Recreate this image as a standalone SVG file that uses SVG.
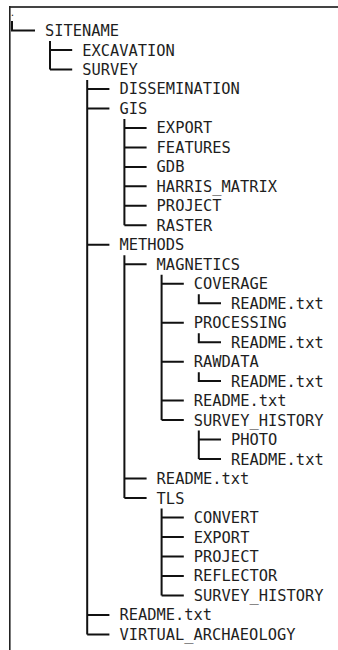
<svg xmlns="http://www.w3.org/2000/svg" width="338" height="650" viewBox="0 0 338 650">
<style>
text{font-family:"DejaVu Sans Mono","Liberation Mono",monospace;font-size:15.4px;fill:#1e1e1e}
.c{stroke:#111;stroke-width:2;fill:none}
.b{stroke:#444;fill:none}
</style>
<rect width="338" height="650" fill="#fff"/>
<g id="frame">
<path class="b" d="M9 7H338" stroke-width="2"/>
<path class="b" d="M9.8 6V650" stroke-width="1.6" style="stroke:#222"/>
</g>
<g id="connectors">
<path class="c" d="M12 21V30.5H35"/>
<path class="c" d="M50 41V69.5M50 50H72.2M50 69.5H72.2"/>
<path class="c" d="M87.2 80V634.4M87.2 88.9H109.4M87.2 108.4H109.4M87.2 244.8H109.4M87.2 614.9H109.4M87.2 634.4H109.4"/>
<path class="c" d="M124.4 118.9V225.3M124.4 127.9H146.6M124.4 147.4H146.6M124.4 166.9H146.6M124.4 186.3H146.6M124.4 205.8H146.6M124.4 225.3H146.6"/>
<path class="c" d="M124.4 255.3V498M124.4 264.3H146.6M124.4 478.5H146.6M124.4 498H146.6"/>
<path class="c" d="M161.6 274.8V420.1M161.6 283.7H183.8M161.6 322.7H183.8M161.6 361.7H183.8M161.6 400.6H183.8M161.6 420.1H183.8"/>
<path class="c" d="M198.8 294.2V303.2H221"/>
<path class="c" d="M198.8 333.2V342.2H221"/>
<path class="c" d="M198.8 372.2V381.1H221"/>
<path class="c" d="M198.8 430.6V459.1M198.8 439.6H221M198.8 459.1H221"/>
<path class="c" d="M161.6 508.5V595.4M161.6 517.5H183.8M161.6 537H183.8M161.6 556.5H183.8M161.6 575.9H183.8M161.6 595.4H183.8"/>
</g>
<g id="root"><text x="9.8" y="15.5" style="font-size:9px">.</text></g>
<g id="n0"><text x="45" y="36">SITENAME</text></g>
<g id="n1"><text x="82.2" y="55.5">EXCAVATION</text></g>
<g id="n2"><text x="82.2" y="75">SURVEY</text></g>
<g id="n3"><text x="119.4" y="94.4">DISSEMINATION</text></g>
<g id="n4"><text x="119.4" y="113.9">GIS</text></g>
<g id="n5"><text x="156.6" y="133.4">EXPORT</text></g>
<g id="n6"><text x="156.6" y="152.9">FEATURES</text></g>
<g id="n7"><text x="156.6" y="172.4">GDB</text></g>
<g id="n8"><text x="156.6" y="191.8">HARRIS_MATRIX</text></g>
<g id="n9"><text x="156.6" y="211.3">PROJECT</text></g>
<g id="n10"><text x="156.6" y="230.8">RASTER</text></g>
<g id="n11"><text x="119.4" y="250.3">METHODS</text></g>
<g id="n12"><text x="156.6" y="269.8">MAGNETICS</text></g>
<g id="n13"><text x="193.8" y="289.2">COVERAGE</text></g>
<g id="n14"><text x="231" y="308.7">README.txt</text></g>
<g id="n15"><text x="193.8" y="328.2">PROCESSING</text></g>
<g id="n16"><text x="231" y="347.7">README.txt</text></g>
<g id="n17"><text x="193.8" y="367.2">RAWDATA</text></g>
<g id="n18"><text x="231" y="386.6">README.txt</text></g>
<g id="n19"><text x="193.8" y="406.1">README.txt</text></g>
<g id="n20"><text x="193.8" y="425.6">SURVEY_HISTORY</text></g>
<g id="n21"><text x="231" y="445.1">PHOTO</text></g>
<g id="n22"><text x="231" y="464.6">README.txt</text></g>
<g id="n23"><text x="156.6" y="484">README.txt</text></g>
<g id="n24"><text x="156.6" y="503.5">TLS</text></g>
<g id="n25"><text x="193.8" y="523">CONVERT</text></g>
<g id="n26"><text x="193.8" y="542.5">EXPORT</text></g>
<g id="n27"><text x="193.8" y="562">PROJECT</text></g>
<g id="n28"><text x="193.8" y="581.4">REFLECTOR</text></g>
<g id="n29"><text x="193.8" y="600.9">SURVEY_HISTORY</text></g>
<g id="n30"><text x="119.4" y="620.4">README.txt</text></g>
<g id="n31"><text x="119.4" y="639.9">VIRTUAL_ARCHAEOLOGY</text></g>
</svg>
